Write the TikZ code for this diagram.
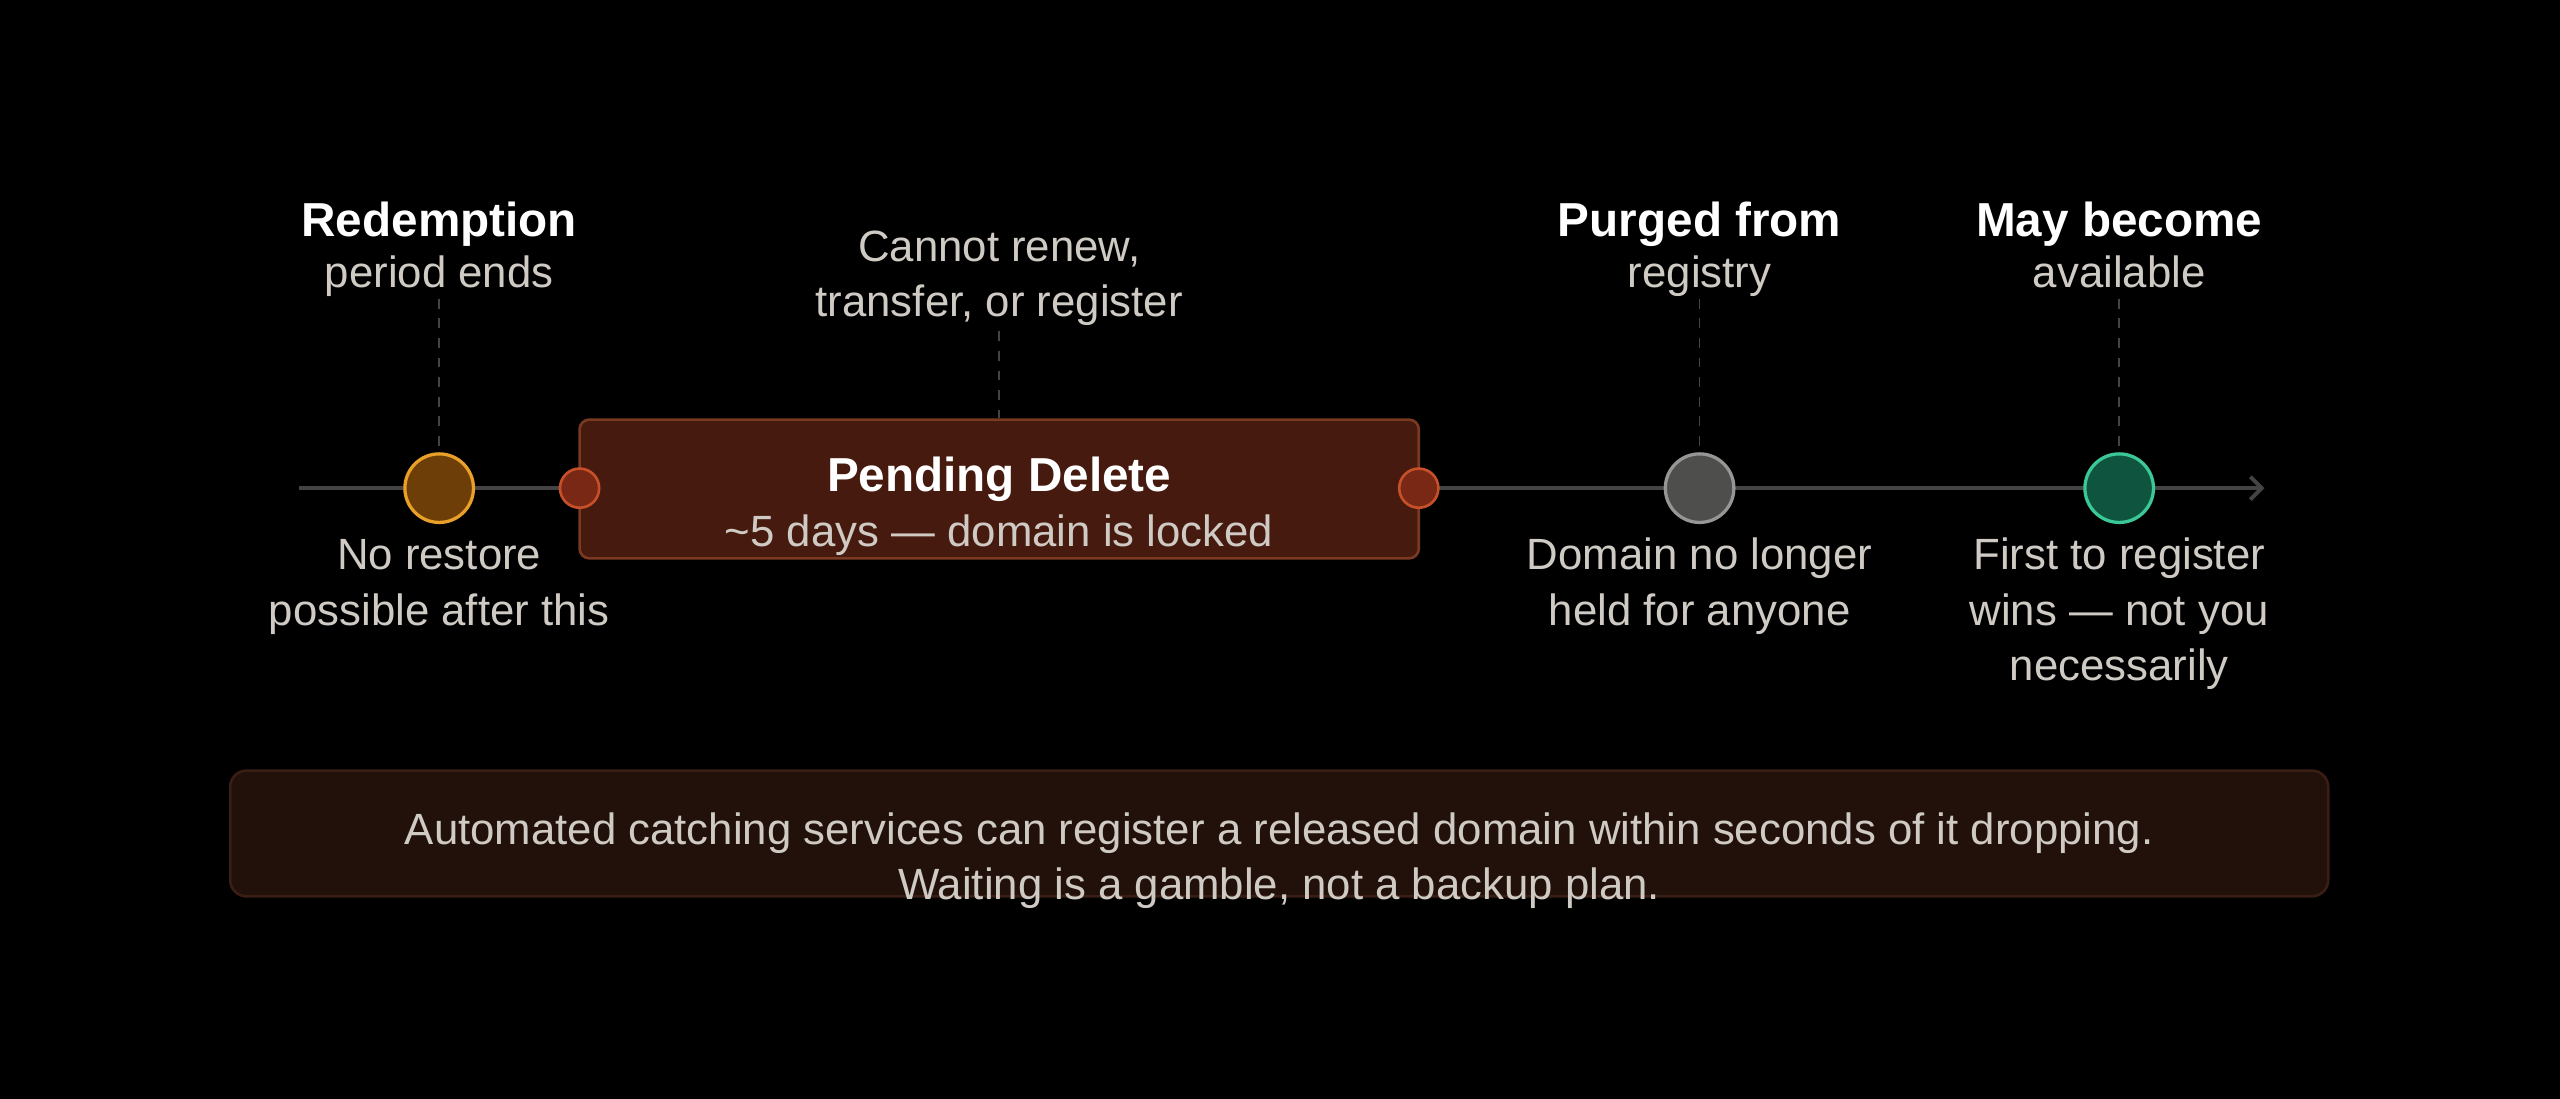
\documentclass[tikz,border=0pt]{standalone}
\usepackage{fontspec}
\setmainfont{Liberation Sans}
\usetikzlibrary{arrows.meta}
\definecolor{txt}{HTML}{CFCBC4}
\definecolor{ln}{HTML}{444444}
\begin{document}
\begin{tikzpicture}[x=0.5pt,y=-0.5pt,
  ttl/.style={font=\fontsize{14.6}{17}\selectfont\bfseries,text=white,inner sep=0,anchor=base},
  sub/.style={font=\fontsize{13.4}{17}\selectfont,text=txt,align=center,inner sep=0},
  guide/.style={draw=ln,dashed,line width=0.5pt},
  big/.style={circle,minimum size=21pt,inner sep=0,line width=1pt},
  small/.style={circle,minimum size=12pt,inner sep=0,fill={rgb,255:red,120;green,40;blue,20},draw={rgb,255:red,200;green,80;blue,40},line width=0.8pt}]
\fill[black] (0,0) rectangle (1568,673);
\useasboundingbox (0,0) rectangle (1568,673);
\coordinate (s) at (183,299); \coordinate (e) at (1387,299);
\draw[ln,line width=1.2pt,-{Straight Barb[length=3.5pt,width=7pt]}] (s) -- (e);
\node[draw={rgb,255:red,122;green,58;blue,34},fill={rgb,255:red,70;green,26;blue,14},rounded corners=3pt,line width=0.8pt,minimum width=257pt,minimum height=42.5pt,inner sep=0] (pd) at (612,299.5) {};
\node[ttl] at (612,301) {Pending Delete};
\node[sub,anchor=base] at (612,335) {\textasciitilde5 days — domain is locked};
\node[big,fill={rgb,255:red,110;green,62;blue,8},draw={rgb,255:red,232;green,160;blue,40}] (c1) at (269,299) {};
\node[small] (r1) at (355,299) {};
\node[small] (r2) at (869,299) {};
\node[big,fill={rgb,255:red,78;green,78;blue,76},draw={rgb,255:red,150;green,150;blue,148}] (c2) at (1041,299) {};
\node[big,fill={rgb,255:red,14;green,84;blue,62},draw={rgb,255:red,60;green,200;blue,150}] (c3) at (1298,299) {};
\node[ttl] at (269,145) {Redemption};
\node[sub,anchor=base] (l1) at (269,176) {period ends};
\node[sub,anchor=base] (l2) at (612,194) {Cannot renew,\\transfer, or register};
\node[ttl] at (1041,145) {Purged from};
\node[sub,anchor=base] (l3) at (1041,176) {registry};
\node[ttl] at (1298,145) {May become};
\node[sub,anchor=base] (l4) at (1298,176) {available};
\coordinate (d2) at (612,256);
\draw[guide] (269,183) -- (c1);
\draw[guide] (612,203) -- (d2);
\draw[guide] (1041,183) -- (c2);
\draw[guide] (1298,183) -- (c3);
\node[sub,anchor=base] at (269,383) {No restore\\possible after this};
\node[sub,anchor=base] at (1041,383) {Domain no longer\\held for anyone};
\node[sub,anchor=base] at (1298,417) {First to register\\wins — not you\\necessarily};
\node[draw={rgb,255:red,58;green,30;blue,20},fill={rgb,255:red,34;green,16;blue,10},rounded corners=5pt,line width=0.8pt,minimum width=642.5pt,minimum height=38.5pt,inner sep=0] (nb) at (783.5,510.5) {};
\node[sub,anchor=base] at (783.5,551) {Automated catching services can register a released domain within seconds of it dropping.\\Waiting is a gamble, not a backup plan.};
\end{tikzpicture}
\end{document}
